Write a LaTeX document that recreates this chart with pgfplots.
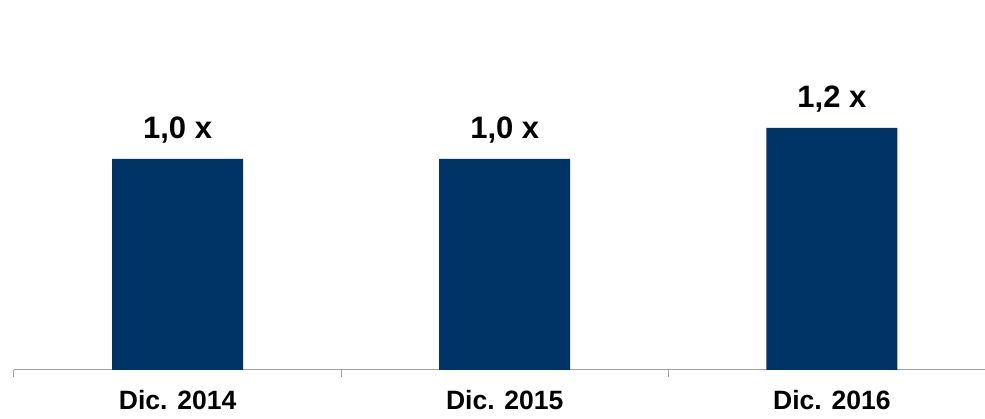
\documentclass[border=0pt]{standalone}
\usepackage{fontspec}
\setmainfont{Liberation Sans}
\usepackage{pgfplots}
\pgfplotsset{compat=1.18}
\definecolor{barnavy}{RGB}{0,51,102}
\definecolor{axgray}{RGB}{160,160,160}

\begin{document}
\begin{tikzpicture}
\begin{axis}[
  scale only axis,
  width=971pt, height=370pt,
  xmin=-0.5, xmax=2.468,
  ymin=0, ymax=1.7536,
  axis y line=none,
  axis x line*=bottom,
  x axis line style={axgray, line width=1pt, -},
  xtick={0,1,2},
  xticklabels={Dic. 2014, Dic. 2015, Dic. 2016},
  major tick length=0pt,
  xticklabel style={font=\fontsize{26.5}{30}\selectfont\bfseries, anchor=base, yshift=-40pt},
  extra x ticks={-0.5,0.5,1.5},
  extra x tick labels={},
  extra x tick style={major tick length=7pt, tick align=outside, tick style={axgray, line width=1pt}},
  ybar, bar width=131pt,
  clip=false,
  nodes near coords,
  point meta=explicit symbolic,
  nodes near coords style={font=\fontsize{31}{34}\selectfont\bfseries, anchor=base, yshift=20pt, inner sep=0pt},
]
\addplot[fill=barnavy, draw=none] coordinates {(0,1.0) [1,0 x] (1,1.0) [1,0 x] (2,1.147) [1,2 x]};
\end{axis}
\pgfresetboundingbox
\path (current axis.south west) ++(-14pt,-49pt) rectangle ++(985pt,419pt);
\end{tikzpicture}
\end{document}
